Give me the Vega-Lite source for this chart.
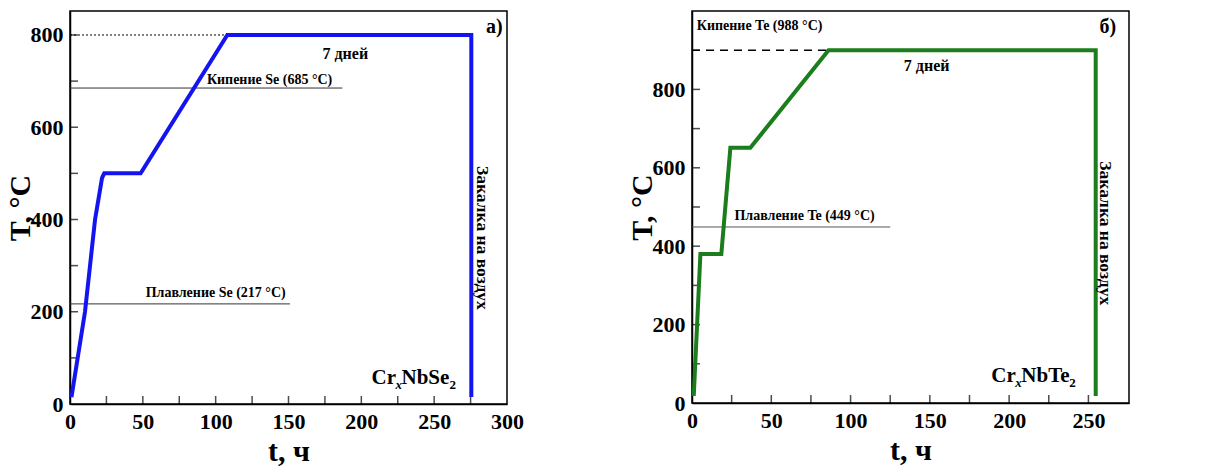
{
  "$schema": "https://vega.github.io/schema/vega-lite/v6.json",
  "background": "white",
  "padding": {"left": 4, "top": 10, "right": 4, "bottom": 0},
  "bounds": "flush",
  "spacing": 185,
  "config": {
    "font": "Liberation Serif",
    "view": {"stroke": "black", "strokeWidth": 1.5},
    "axis": {
      "grid": false,
      "ticks": false,
      "domainColor": "black",
      "domainWidth": 1.5,
      "labelFont": "Liberation Serif",
      "labelFontSize": 22,
      "labelFontWeight": "bold",
      "labelColor": "black",
      "labelFlush": false,
      "labelOverlap": false,
      "labelPadding": 7,
      "titleFont": "Liberation Serif",
      "titleFontSize": 30,
      "titleFontWeight": "bold",
      "titleColor": "black"
    },
    "axisX": {"titlePadding": 4},
    "axisY": {"titlePadding": -5},
    "tick": {"color": "black", "thickness": 1.5, "size": 8},
    "text": {"font": "Liberation Serif", "fontWeight": "bold", "color": "black"}
  },
  "hconcat": [
    {
      "width": 437,
      "height": 393,
      "layer": [
        {
          "data": {"values": [
            {"t": 0, "t2": 108, "T": 800}
          ]},
          "mark": {"type": "rule", "color": "black", "strokeWidth": 1, "strokeDash": [2, 2]},
          "encoding": {
            "x": {"field": "t", "type": "quantitative", "scale": {"domain": [0, 300], "nice": false},
              "axis": {"title": "t, ч", "values": [0, 50, 100, 150, 200, 250, 300]}},
            "x2": {"field": "t2"},
            "y": {"field": "T", "type": "quantitative", "scale": {"domain": [0, 852], "nice": false},
              "axis": {"title": "T, °C", "values": [0, 200, 400, 600, 800]}}
          }
        },
        {
          "data": {"values": [
            {"t": 25}, {"t": 50}, {"t": 75}, {"t": 100}, {"t": 125}, {"t": 150},
            {"t": 175}, {"t": 200}, {"t": 225}, {"t": 250}, {"t": 275}
          ]},
          "mark": {"type": "tick", "orient": "vertical", "yOffset": -4},
          "encoding": {
            "x": {"field": "t", "type": "quantitative"},
            "y": {"datum": 0, "type": "quantitative"}
          }
        },
        {
          "data": {"values": [
            {"T": 100}, {"T": 200}, {"T": 300}, {"T": 400}, {"T": 500}, {"T": 600}, {"T": 700}, {"T": 800}
          ]},
          "mark": {"type": "tick", "orient": "horizontal", "xOffset": 4},
          "encoding": {
            "y": {"field": "T", "type": "quantitative"},
            "x": {"datum": 0, "type": "quantitative"}
          }
        },
        {
          "data": {"values": [
            {"t": 0, "t2": 187, "T": 685, "kind": "boil"},
            {"t": 0, "t2": 151, "T": 217, "kind": "melt"}
          ]},
          "mark": {"type": "rule", "color": "#333333", "strokeWidth": 1},
          "encoding": {
            "x": {"field": "t", "type": "quantitative"},
            "x2": {"field": "t2"},
            "y": {"field": "T", "type": "quantitative"}
          }
        },
        {
          "data": {"values": [
            {"t": 1, "T": 15},
            {"t": 10.3, "T": 200},
            {"t": 17.2, "T": 400},
            {"t": 22, "T": 490},
            {"t": 23.5, "T": 500},
            {"t": 48.5, "T": 500},
            {"t": 108, "T": 800},
            {"t": 275.5, "T": 800},
            {"t": 275.5, "T": 15}
          ]},
          "mark": {"type": "line", "color": "#1414f0", "strokeWidth": 4, "strokeJoin": "miter"},
          "encoding": {
            "x": {"field": "t", "type": "quantitative"},
            "y": {"field": "T", "type": "quantitative"},
            "order": {"value": 0}
          }
        },
        {
          "data": {"values": [
            {"t": 137, "T": 694, "label": "Кипение Se (685 °C)"},
            {"t": 100, "T": 231, "label": "Плавление Se (217 °C)"}
          ]},
          "mark": {"type": "text", "fontSize": 14, "align": "center", "baseline": "alphabetic"},
          "encoding": {
            "x": {"field": "t", "type": "quantitative"},
            "y": {"field": "T", "type": "quantitative"},
            "text": {"field": "label"}
          }
        },
        {
          "data": {"values": [{"t": 189, "T": 749, "label": "7 дней"}]},
          "mark": {"type": "text", "fontSize": 16, "align": "center", "baseline": "alphabetic"},
          "encoding": {
            "x": {"field": "t", "type": "quantitative"},
            "y": {"field": "T", "type": "quantitative"},
            "text": {"field": "label"}
          }
        },
        {
          "data": {"values": [{"t": 297, "T": 805, "label": "а)"}]},
          "mark": {"type": "text", "fontSize": 20, "align": "right", "baseline": "alphabetic"},
          "encoding": {
            "x": {"field": "t", "type": "quantitative"},
            "y": {"field": "T", "type": "quantitative"},
            "text": {"field": "label"}
          }
        },
        {
          "data": {"values": [{"t": 283, "T": 360, "label": "Закалка на воздух"}]},
          "mark": {"type": "text", "fontSize": 17.5, "angle": 90, "align": "center", "baseline": "middle"},
          "encoding": {
            "x": {"field": "t", "type": "quantitative"},
            "y": {"field": "T", "type": "quantitative"},
            "text": {"field": "label"}
          }
        },
        {
          "data": {"values": [{"t": 207, "T": 43, "label": "Cr"}]},
          "mark": {"type": "text", "fontSize": 21, "align": "left", "baseline": "alphabetic"},
          "encoding": {
            "x": {"field": "t", "type": "quantitative"},
            "y": {"field": "T", "type": "quantitative"},
            "text": {"field": "label"}
          }
        },
        {
          "data": {"values": [{"t": 207, "T": 43, "label": "x"}]},
          "mark": {"type": "text", "fontSize": 13, "fontStyle": "italic", "align": "left", "baseline": "alphabetic", "dx": 24, "dy": 5},
          "encoding": {
            "x": {"field": "t", "type": "quantitative"},
            "y": {"field": "T", "type": "quantitative"},
            "text": {"field": "label"}
          }
        },
        {
          "data": {"values": [{"t": 207, "T": 43, "label": "NbSe"}]},
          "mark": {"type": "text", "fontSize": 21, "align": "left", "baseline": "alphabetic", "dx": 30},
          "encoding": {
            "x": {"field": "t", "type": "quantitative"},
            "y": {"field": "T", "type": "quantitative"},
            "text": {"field": "label"}
          }
        },
        {
          "data": {"values": [{"t": 207, "T": 43, "label": "2"}]},
          "mark": {"type": "text", "fontSize": 13, "align": "left", "baseline": "alphabetic", "dx": 78, "dy": 5},
          "encoding": {
            "x": {"field": "t", "type": "quantitative"},
            "y": {"field": "T", "type": "quantitative"},
            "text": {"field": "label"}
          }
        }
      ]
    },
    {
      "width": 437,
      "height": 392,
      "layer": [
        {
          "data": {"values": [
            {"t": 0, "t2": 184, "T": 900}
          ]},
          "mark": {"type": "rule", "color": "black", "strokeWidth": 1.5, "strokeDash": [8, 6]},
          "encoding": {
            "x": {"field": "t", "type": "quantitative", "scale": {"domain": [0, 275.6], "nice": false},
              "axis": {"title": "t, ч", "values": [0, 50, 100, 150, 200, 250]}},
            "x2": {"field": "t2"},
            "y": {"field": "T", "type": "quantitative", "scale": {"domain": [0, 1000], "nice": false},
              "axis": {"title": "T, °C", "values": [0, 200, 400, 600, 800]}}
          }
        },
        {
          "data": {"values": [
            {"t": 25}, {"t": 50}, {"t": 75}, {"t": 100}, {"t": 125}, {"t": 150},
            {"t": 175}, {"t": 200}, {"t": 225}, {"t": 250}
          ]},
          "mark": {"type": "tick", "orient": "vertical", "yOffset": -4},
          "encoding": {
            "x": {"field": "t", "type": "quantitative"},
            "y": {"datum": 0, "type": "quantitative"}
          }
        },
        {
          "data": {"values": [
            {"T": 100}, {"T": 200}, {"T": 300}, {"T": 400}, {"T": 500}, {"T": 600}, {"T": 700}, {"T": 800}, {"T": 900}
          ]},
          "mark": {"type": "tick", "orient": "horizontal", "xOffset": 4},
          "encoding": {
            "y": {"field": "T", "type": "quantitative"},
            "x": {"datum": 0, "type": "quantitative"}
          }
        },
        {
          "data": {"values": [
            {"t": 0, "t2": 125, "T": 449}
          ]},
          "mark": {"type": "rule", "color": "#555555", "strokeWidth": 1},
          "encoding": {
            "x": {"field": "t", "type": "quantitative"},
            "x2": {"field": "t2"},
            "y": {"field": "T", "type": "quantitative"}
          }
        },
        {
          "data": {"values": [
            {"t": 1.1, "T": 18},
            {"t": 5.3, "T": 380},
            {"t": 18.5, "T": 380},
            {"t": 24.2, "T": 651},
            {"t": 36.8, "T": 651},
            {"t": 86.1, "T": 900},
            {"t": 254.6, "T": 900},
            {"t": 254.6, "T": 18}
          ]},
          "mark": {"type": "line", "color": "#1b7d1b", "strokeWidth": 4, "strokeJoin": "miter"},
          "encoding": {
            "x": {"field": "t", "type": "quantitative"},
            "y": {"field": "T", "type": "quantitative"},
            "order": {"value": 0}
          }
        },
        {
          "data": {"values": [{"t": 3, "T": 951, "label": "Кипение Te (988 °C)"}]},
          "mark": {"type": "text", "fontSize": 14, "align": "left", "baseline": "alphabetic"},
          "encoding": {
            "x": {"field": "t", "type": "quantitative"},
            "y": {"field": "T", "type": "quantitative"},
            "text": {"field": "label"}
          }
        },
        {
          "data": {"values": [{"t": 71, "T": 466, "label": "Плавление Te (449 °C)"}]},
          "mark": {"type": "text", "fontSize": 14, "align": "center", "baseline": "alphabetic"},
          "encoding": {
            "x": {"field": "t", "type": "quantitative"},
            "y": {"field": "T", "type": "quantitative"},
            "text": {"field": "label"}
          }
        },
        {
          "data": {"values": [{"t": 148, "T": 847, "label": "7 дней"}]},
          "mark": {"type": "text", "fontSize": 16, "align": "center", "baseline": "alphabetic"},
          "encoding": {
            "x": {"field": "t", "type": "quantitative"},
            "y": {"field": "T", "type": "quantitative"},
            "text": {"field": "label"}
          }
        },
        {
          "data": {"values": [{"t": 267.5, "T": 944, "label": "б)"}]},
          "mark": {"type": "text", "fontSize": 20, "align": "right", "baseline": "alphabetic"},
          "encoding": {
            "x": {"field": "t", "type": "quantitative"},
            "y": {"field": "T", "type": "quantitative"},
            "text": {"field": "label"}
          }
        },
        {
          "data": {"values": [{"t": 260.7, "T": 433, "label": "Закалка на воздух"}]},
          "mark": {"type": "text", "fontSize": 17.5, "angle": 90, "align": "center", "baseline": "middle"},
          "encoding": {
            "x": {"field": "t", "type": "quantitative"},
            "y": {"field": "T", "type": "quantitative"},
            "text": {"field": "label"}
          }
        },
        {
          "data": {"values": [{"t": 188.8, "T": 54, "label": "Cr"}]},
          "mark": {"type": "text", "fontSize": 21, "align": "left", "baseline": "alphabetic"},
          "encoding": {
            "x": {"field": "t", "type": "quantitative"},
            "y": {"field": "T", "type": "quantitative"},
            "text": {"field": "label"}
          }
        },
        {
          "data": {"values": [{"t": 188.8, "T": 54, "label": "x"}]},
          "mark": {"type": "text", "fontSize": 13, "fontStyle": "italic", "align": "left", "baseline": "alphabetic", "dx": 24, "dy": 5},
          "encoding": {
            "x": {"field": "t", "type": "quantitative"},
            "y": {"field": "T", "type": "quantitative"},
            "text": {"field": "label"}
          }
        },
        {
          "data": {"values": [{"t": 188.8, "T": 54, "label": "NbTe"}]},
          "mark": {"type": "text", "fontSize": 21, "align": "left", "baseline": "alphabetic", "dx": 30},
          "encoding": {
            "x": {"field": "t", "type": "quantitative"},
            "y": {"field": "T", "type": "quantitative"},
            "text": {"field": "label"}
          }
        },
        {
          "data": {"values": [{"t": 188.8, "T": 54, "label": "2"}]},
          "mark": {"type": "text", "fontSize": 13, "align": "left", "baseline": "alphabetic", "dx": 78, "dy": 5},
          "encoding": {
            "x": {"field": "t", "type": "quantitative"},
            "y": {"field": "T", "type": "quantitative"},
            "text": {"field": "label"}
          }
        }
      ]
    }
  ]
}
